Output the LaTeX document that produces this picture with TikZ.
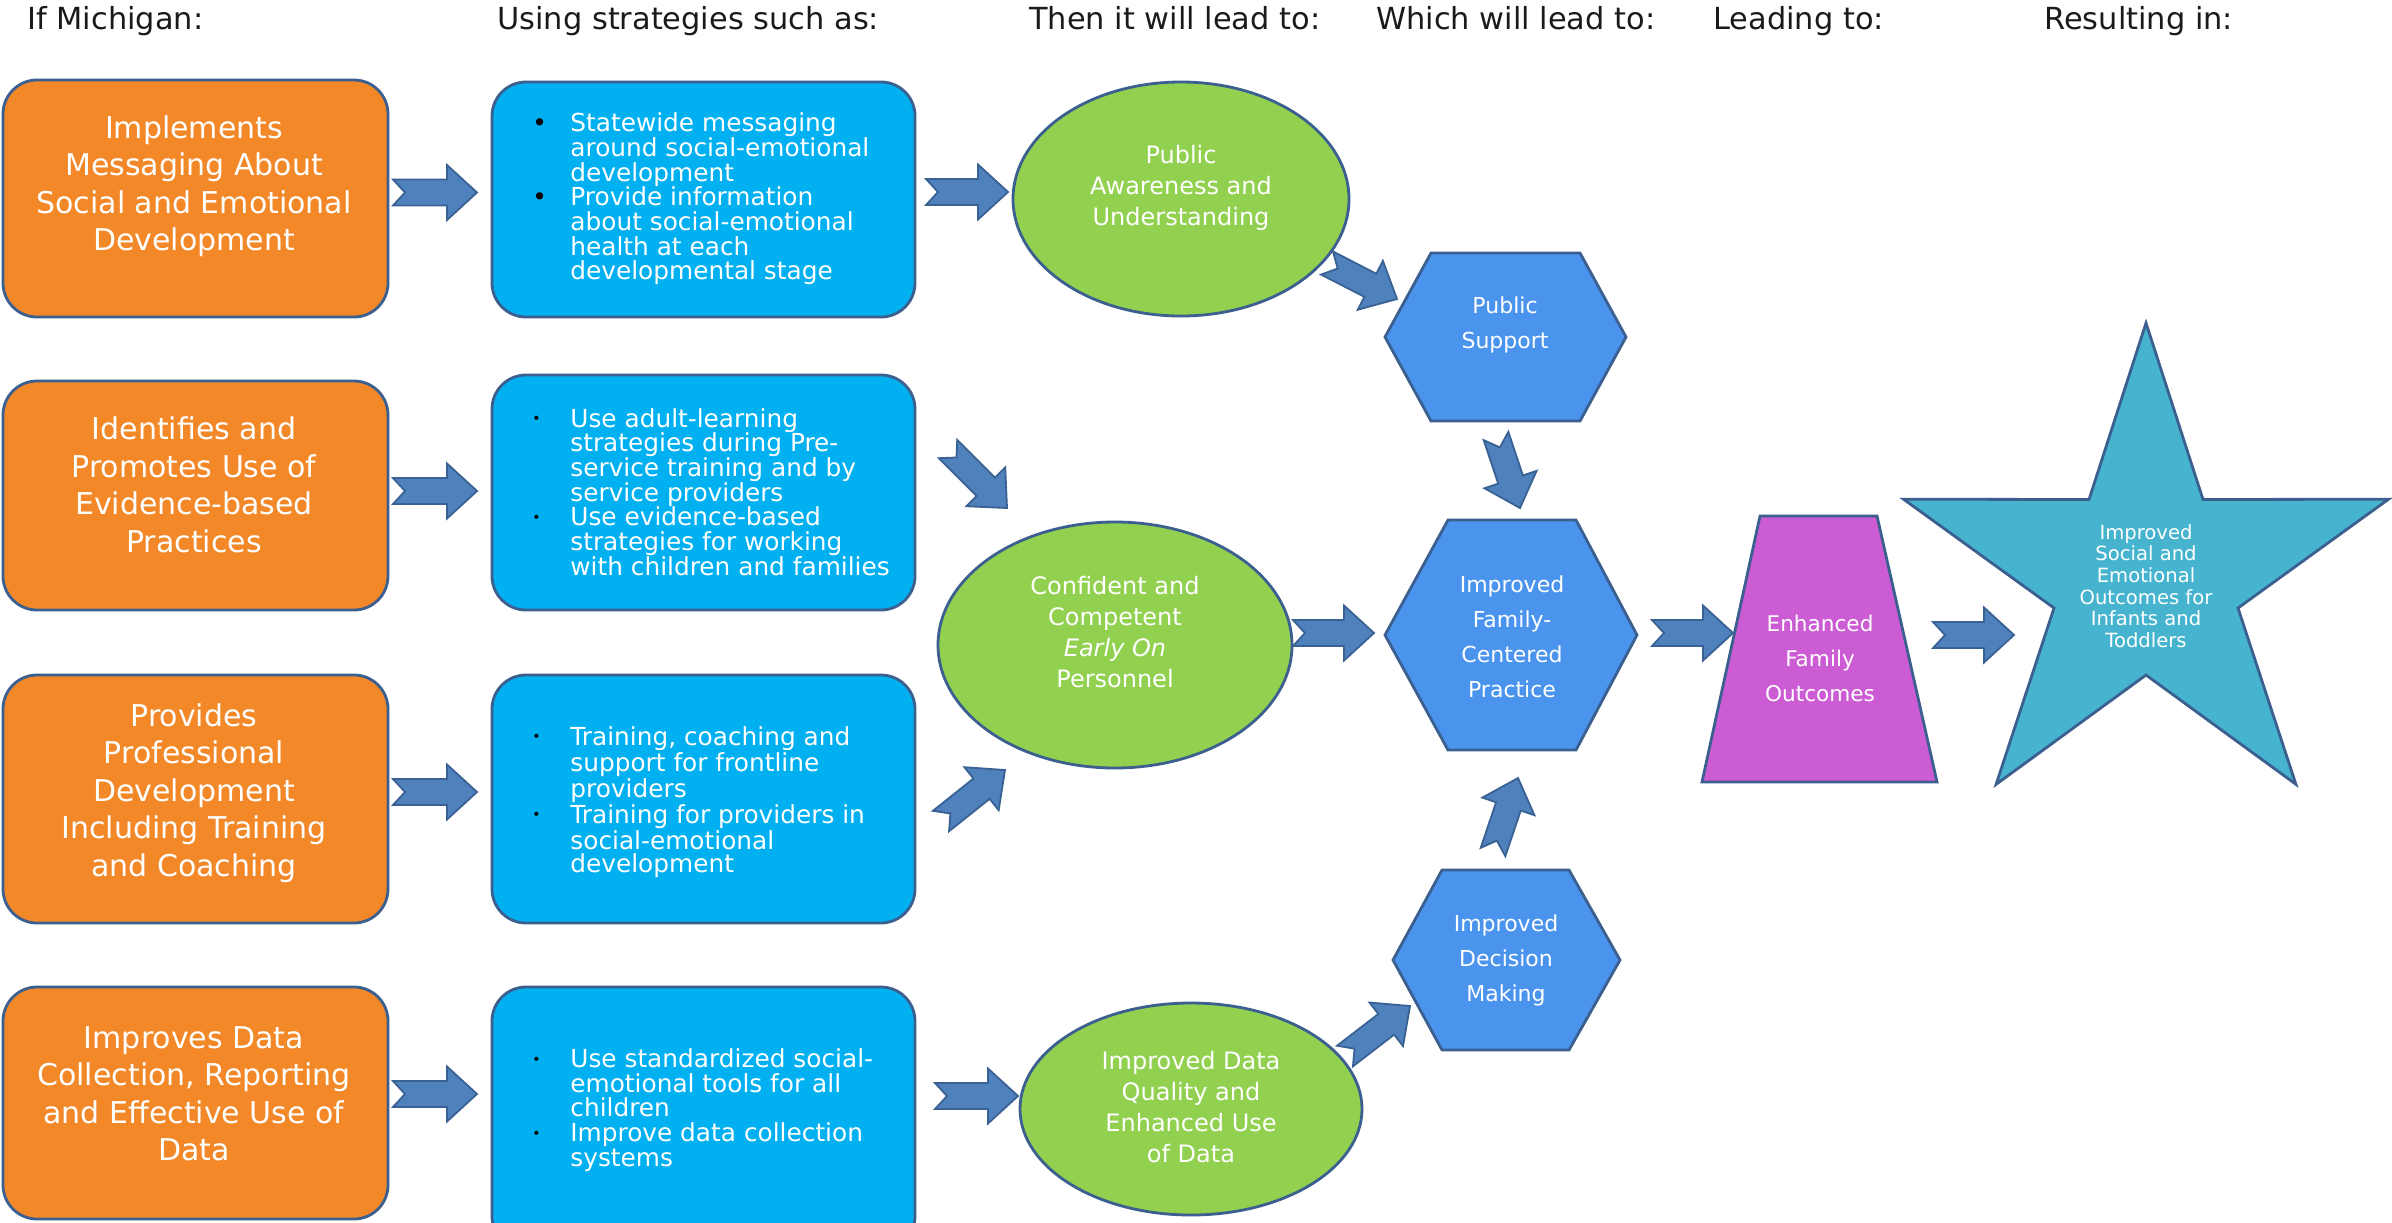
\documentclass[tikz,border=0pt]{standalone}
\usepackage{fontspec}
\setmainfont{DejaVu Sans}
\usetikzlibrary{calc,shapes.geometric}
\definecolor{edge}{HTML}{3B5F8E}
\definecolor{orng}{HTML}{F38828}
\definecolor{cyanb}{HTML}{00B0F0}
\definecolor{grn}{HTML}{92D050}
\definecolor{hexb}{HTML}{4A94EE}
\definecolor{magn}{HTML}{CC5CD4}
\definecolor{starc}{HTML}{46B4CE}
\definecolor{arrf}{HTML}{4F81BD}
\definecolor{arrd}{HTML}{3A6193}
\definecolor{hdrc}{HTML}{1A1A1A}
\tikzset{
  arrowshape/.style={fill=arrf, draw=arrd, line width=0.9pt, line join=miter},
  shapeline/.style={draw=edge, line width=1.4pt},
  obox/.style={shapeline, rectangle, rounded corners=17pt, fill=orng, inner sep=0pt},
  cbox/.style={shapeline, rectangle, rounded corners=17pt, fill=cyanb, inner sep=0pt},
  gell/.style={shapeline, ellipse, fill=grn, inner sep=0pt},
  hdr/.style={text=hdrc, inner sep=0pt, font=\fontsize{15.2}{18}\selectfont},
  otext/.style={text=white, align=center, inner sep=0pt, font=\fontsize{15}{18.75}\selectfont},
  ctext/.style={text=white, align=left, inner sep=0pt, anchor=west, font=\fontsize{12.4}{12.35}\selectfont},
  gtext/.style={text=white, align=center, inner sep=0pt, font=\fontsize{12}{15.5}\selectfont},
  htext/.style={text=white, align=center, inner sep=0pt, font=\fontsize{11}{17.5}\selectfont},
  stext/.style={text=white, align=center, inner sep=0pt, font=\fontsize{9.8}{10.8}\selectfont},
}
\newcommand\blockarrow[2]{%
  \filldraw[arrowshape]
    ($(#1)!6.5pt!90:(#2)$) --
    ($(#2)!15pt!(#1)!6.5pt!-90:(#1)$) --
    ($(#2)!15pt!(#1)!13.75pt!-90:(#1)$) --
    (#2) --
    ($(#2)!15pt!(#1)!13.75pt!90:(#1)$) --
    ($(#2)!15pt!(#1)!6.5pt!90:(#1)$) --
    ($(#1)!6.5pt!-90:(#2)$) --
    ($(#1)!6pt!(#2)$) -- cycle;}
\newcommand\bigbul{\llap{\makebox[19pt][l]{\textcolor{black}{•}}}}
\newcommand\smbul{\llap{\makebox[19pt][l]{\raisebox{1.6pt}{\textcolor{black}{\fontsize{7}{7}\selectfont •}}}}}
\begin{document}
\begin{tikzpicture}[x=0.5pt, y=-0.5pt]
\useasboundingbox (0,0) rectangle (2392,1222);
\fill[white] (0,0) rectangle (2392,1222);

% headers
\node[hdr, anchor=base west] (hd1) at (27,29) {If Michigan:};
\node[hdr, anchor=base west] (hd2) at (497,29) {Using strategies such as:};
\node[hdr, anchor=base west] (hd3) at (1029,29) {Then it will lead to:};
\node[hdr, anchor=base west] (hd4) at (1376,29) {Which will lead to:};
\node[hdr, anchor=base west] (hd5) at (1713,29) {Leading to:};
\node[hdr, anchor=base west] (hd6) at (2044,29) {Resulting in:};

% orange boxes
\node[obox, minimum width=192.5pt, minimum height=118.5pt] (o1) at (195.5,198.5) {};
\node[obox, minimum width=192.5pt, minimum height=114.5pt] (o2) at (195.5,495.5) {};
\node[obox, minimum width=192.5pt, minimum height=124pt] (o3) at (195.5,799) {};
\node[obox, minimum width=192.5pt, minimum height=116pt] (o4) at (195.5,1103) {};
\node[otext] (ot1) at (194,186) {Implements\\Messaging About\\Social and Emotional\\Development};
\node[otext] (ot2) at (194,485) {Identifies and\\Promotes Use of\\Evidence-based\\Practices};
\node[otext] (ot3) at (194,793) {Provides\\Professional\\Development\\Including Training\\and Coaching};
\node[otext] (ot4) at (194,1094) {Improves Data\\Collection, Reporting\\and Effective Use of\\Data};

% cyan boxes
\node[cbox, minimum width=211.5pt, minimum height=117.5pt] (c1) at (703.5,199.5) {};
\node[cbox, minimum width=211.5pt, minimum height=117.5pt] (c2) at (703.5,492.5) {};
\node[cbox, minimum width=211.5pt, minimum height=124pt] (c3) at (703.5,799) {};
\node[cbox, minimum width=211.5pt, minimum height=131.5pt] (c4) at (703.5,1118.5) {};
\node[ctext] (ct1) at (570,199) {\bigbul Statewide messaging\\around social-emotional\\development\\\bigbul Provide information\\about social-emotional\\health at each\\developmental stage};
\node[ctext] (ct2) at (570,492) {\smbul Use adult-learning\\strategies during Pre-\\service training and by\\service providers\\\smbul Use evidence-based\\strategies for working\\with children and families};
\node[ctext, font=\fontsize{12.4}{11.8}\selectfont] (ct3) at (570,802) {\smbul Training, coaching and\\support for frontline\\providers\\\smbul Training for providers in\\social-emotional\\development};
\node[ctext] (ct4) at (570,1110) {\smbul Use standardized social-\\emotional tools for all\\children\\\smbul Improve data collection\\systems};

% green ellipses
\node[gell, minimum width=168pt, minimum height=117pt] (e1) at (1181,199) {};
\node[gell, minimum width=177pt, minimum height=123pt] (e2) at (1115,645) {};
\node[gell, minimum width=171pt, minimum height=106pt] (e3) at (1191,1109) {};
\node[gtext] (et1) at (1181,188) {Public\\Awareness and\\Understanding};
\node[gtext] (et2) at (1115,632) {Confident and\\Competent\\\textit{Early On}\\Personnel};
\node[gtext] (et3) at (1191,1107) {Improved Data\\Quality and\\Enhanced Use\\of Data};

% hexagons
\filldraw[shapeline, fill=hexb] (1385,337) -- (1431,253) -- (1580,253) -- (1626,337) -- (1580,421) -- (1431,421) -- cycle;
\filldraw[shapeline, fill=hexb] (1385,635) -- (1448,520) -- (1576,520) -- (1637,635) -- (1576,750) -- (1448,750) -- cycle;
\filldraw[shapeline, fill=hexb] (1393,960) -- (1442,870) -- (1569,870) -- (1620,960) -- (1569,1050) -- (1442,1050) -- cycle;
\node[htext] (ht1) at (1505,325) {Public\\Support};
\node[htext] (ht2) at (1512,637) {Improved\\Family-\\Centered\\Practice};
\node[htext] (ht3) at (1506,960) {Improved\\Decision\\Making};

% trapezoid
\filldraw[shapeline, fill=magn] (1760,516) -- (1877,516) -- (1937,782) -- (1702,782) -- cycle;
\node[htext, font=\fontsize{10.8}{17.5}\selectfont] (tt) at (1820,658) {Enhanced\\Family\\Outcomes};

% star
\filldraw[shapeline, fill=starc] (2146,323) -- (2203,499.5) -- (2388.5,499.2) -- (2238,608) -- (2295.9,784.3) -- (2146,675) -- (1996.1,784.3) -- (2054,608) -- (1903.5,499.2) -- (2089,499.5) -- cycle;
\node[stext] (st) at (2146,586) {Improved\\Social and\\Emotional\\Outcomes for\\Infants and\\Toddlers};

% arrow end points
\coordinate (r1a) at (393,192.5); \coordinate (r1b) at (477,192.5);
\coordinate (r2a) at (393,491);   \coordinate (r2b) at (477,491);
\coordinate (r3a) at (393,792);   \coordinate (r3b) at (477,792);
\coordinate (r4a) at (393,1094);  \coordinate (r4b) at (477,1094);
\coordinate (b1a) at (926,192);   \coordinate (b1b) at (1008,192);
\coordinate (b2a) at (948,449);   \coordinate (b2b) at (1007,508);
\coordinate (b3a) at (941,821);   \coordinate (b3b) at (1005,770);
\coordinate (b4a) at (935,1096);  \coordinate (b4b) at (1018,1096);
\coordinate (e1a) at (1327,263);  \coordinate (e1b) at (1397,299);
\coordinate (e2a) at (1293,633);  \coordinate (e2b) at (1374,633);
\coordinate (e3a) at (1345,1056); \coordinate (e3b) at (1410,1006);
\coordinate (h1a) at (1496,436);  \coordinate (h1b) at (1520,508);
\coordinate (h3a) at (1493,852);  \coordinate (h3b) at (1518,778);
\coordinate (h2a) at (1652,633);  \coordinate (h2b) at (1733,633);
\coordinate (ta)  at (1933,635);  \coordinate (tb)  at (2014,635);

\blockarrow{r1a}{r1b}
\blockarrow{r2a}{r2b}
\blockarrow{r3a}{r3b}
\blockarrow{r4a}{r4b}
\blockarrow{b1a}{b1b}
\blockarrow{b2a}{b2b}
\blockarrow{b3a}{b3b}
\blockarrow{b4a}{b4b}
\blockarrow{e1a}{e1b}
\blockarrow{e2a}{e2b}
\blockarrow{e3a}{e3b}
\blockarrow{h1a}{h1b}
\blockarrow{h3a}{h3b}
\blockarrow{h2a}{h2b}
\blockarrow{ta}{tb}
\end{tikzpicture}
\end{document}
